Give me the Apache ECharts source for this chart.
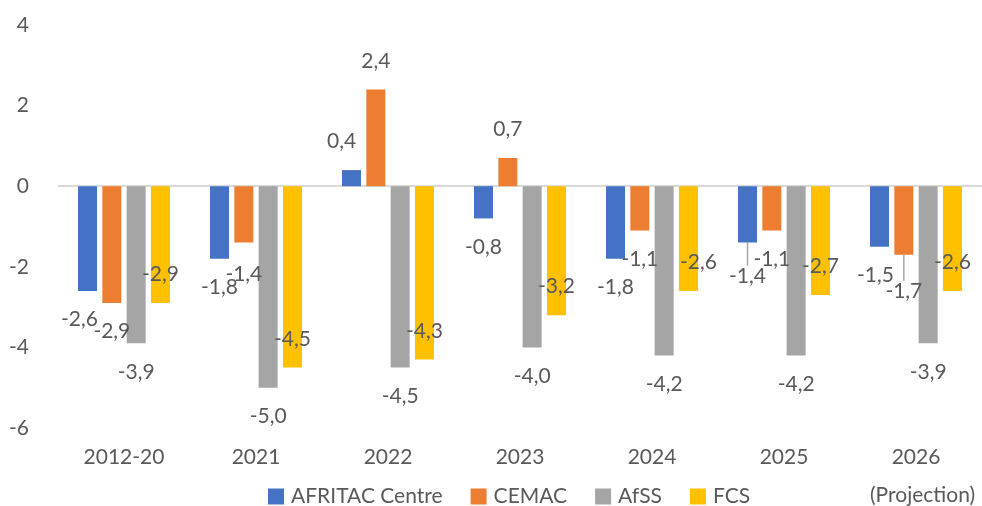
<!DOCTYPE html>
<html>
<head>
<meta charset="utf-8">
<script src="https://cdn.jsdelivr.net/npm/echarts@6/dist/echarts.min.js"></script>
<style>
    html, body { margin: 0; padding: 0; background: #fff; }
    #chart { width: 982px; height: 506px; }
</style>
</head>
<body>
<div id="chart"></div>
<script>
// categories and series values
const categories = ['2012-20', '2021', '2022', '2023', '2024', '2025', '2026'];
const seriesNames = ['AFRITAC Centre', 'CEMAC', 'AfSS', 'FCS'];
const afritacCentre = [-2.6, -1.8, 0.4, -0.8, -1.8, -1.4, -1.5];
const cemac = [-2.9, -1.4, 2.4, 0.7, -1.1, -1.1, -1.7];
const afss = [-3.9, -5.0, -4.5, -4.0, -4.2, -4.2, -3.9];
const fcs = [-2.9, -4.5, -4.3, -3.2, -2.6, -2.7, -2.6];
const yTicks = [-6, -4, -2, 0, 2, 4];

const colors = ['#4472C4', '#ED7D31', '#A5A5A5', '#FFC000'];
const textColor = '#595959';
const font = 'Lato';
const fontSize = 21;

// small label shifts like excel did them: [series][category] -> [dx, dy]
const labelNudge = {
    0: { 0: [-8, 0], 2: [-10, 0], 5: [0, 5], 6: [-4, 0] },
    1: { 1: [0, 3], 6: [0, 8] },
    3: { 4: [10, 0] }
};
// labels with a leader line
const leaderLines = { 0: [5], 1: [6] };

const fmt = v => v.toFixed(1).replace('.', ',');

const chart = echarts.init(document.getElementById('chart'));

function buildSeries(name, values, idx) {
    const inside = idx === 3; // FCS labels sit inside the bar end
    return {
        name: name,
        type: 'bar',
        barWidth: 19,
        barGap: '28%',
        itemStyle: { color: colors[idx] },
        label: {
            show: true,
            distance: 18,
            color: textColor,
            fontFamily: font,
            fontSize: fontSize,
            formatter: p => fmt(p.value)
        },
        labelLayout: p => {
            const n = (labelNudge[idx] || {})[p.dataIndex];
            return n ? { dx: n[0], dy: n[1] } : {};
        },
        labelLine: { show: false, lineStyle: { color: '#A6A6A6', width: 1.5 } },
        data: values.map((v, i) => {
            let pos = v < 0 ? 'bottom' : 'top';
            if (inside) pos = v < 0 ? 'insideBottom' : 'insideTop';
            const item = { value: v, label: { position: pos } };
            if ((leaderLines[idx] || []).includes(i)) item.labelLine = { show: true, length2: 0 };
            return item;
        }),
        markLine: idx === 0 ? {
            silent: true,
            symbol: 'none',
            label: { show: false },
            lineStyle: { color: '#D9D9D9', width: 2, type: 'solid' },
            data: [{ yAxis: 0 }],
            z: 1
        } : undefined
    };
}

const option = {
    animation: false,
    textStyle: { fontFamily: font },
    grid: { left: 58, top: 25, width: 935, height: 403 },
    legend: {
        left: 263,
        top: 481,
        itemWidth: 16,
        itemHeight: 16,
        itemGap: 28,
        icon: 'rect',
        textStyle: { color: textColor, fontSize: fontSize, fontFamily: font, padding: [0, 0, 0, 2] },
        data: seriesNames
    },
    graphic: [{
        type: 'text',
        left: 870,
        top: 485,
        style: { text: '(Projection)', fill: textColor, fontSize: fontSize, fontFamily: font }
    }],
    xAxis: {
        type: 'category',
        data: categories,
        axisLine: { show: false, onZero: false },
        axisTick: { show: false },
        axisLabel: { color: textColor, fontSize: fontSize, fontFamily: font, margin: 19 }
    },
    yAxis: {
        type: 'value',
        min: yTicks[0],
        max: yTicks[yTicks.length - 1],
        interval: 2,
        splitLine: { show: false },
        axisLine: { show: false },
        axisTick: { show: false },
        axisLabel: { color: textColor, fontSize: fontSize, fontFamily: font, margin: 29 }
    },
    series: [
        buildSeries(seriesNames[0], afritacCentre, 0),
        buildSeries(seriesNames[1], cemac, 1),
        buildSeries(seriesNames[2], afss, 2),
        buildSeries(seriesNames[3], fcs, 3)
    ]
};

chart.setOption(option);
</script>
</body>
</html>
